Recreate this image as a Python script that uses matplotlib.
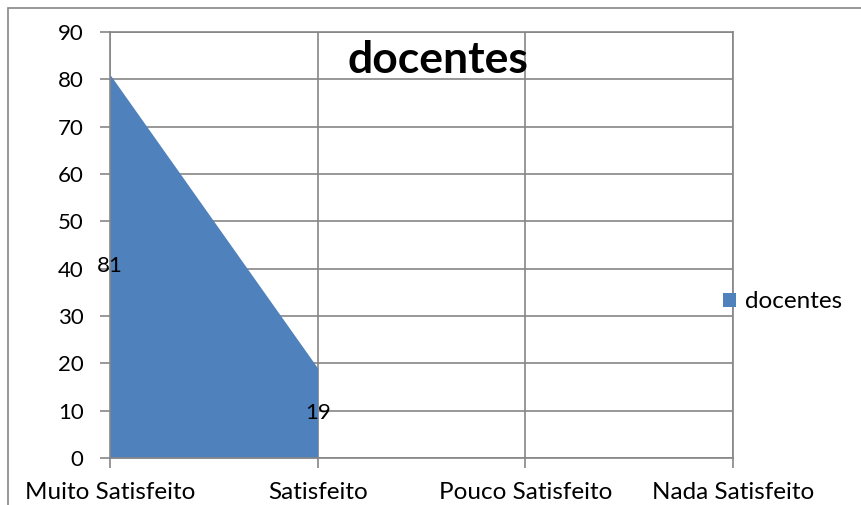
import matplotlib.pyplot as plt
from matplotlib.patches import Rectangle, Patch

categories = ["Muito Satisfeito", "Satisfeito", "Pouco Satisfeito", "Nada Satisfeito"]
values = [81, 19]
series_name = "docentes"
yticks = list(range(0, 100, 10))

grid_color = "#868686"
fill_color = "#4F81BD"

plt.rcParams["font.family"] = ["Lato", "DejaVu Sans"]

fig = plt.figure(figsize=(8.61, 5.05), dpi=100)
ax = fig.add_axes([110 / 861, 47 / 505, 623 / 861, 426 / 505])

# outer chart border (only left and top visible in the original)
fig.patches.append(Rectangle((8 / 861, -0.2), 1.2, (505 - 8) / 505 + 0.2,
                             transform=fig.transFigure, fill=False,
                             edgecolor=grid_color, linewidth=1.2))

x = list(range(len(values)))
ax.fill_between(x, values, 0, color=fill_color, linewidth=0, zorder=2)

# data labels at mid-height of the area
for xi, v in zip(x, values):
    ax.text(xi, v / 2, str(v), ha="center", va="center", fontsize=16, zorder=3)

ax.set_xlim(0, len(categories) - 1)
ax.set_ylim(0, 90)
ax.set_yticks(yticks)
ax.set_xticks(range(len(categories)))
ax.set_xticklabels(categories, fontsize=17.5)
ax.tick_params(axis="y", labelsize=16)
ax.tick_params(axis="both", color=grid_color, length=7, width=1.2)
ax.tick_params(axis="x", pad=10)
ax.tick_params(axis="y", pad=12)

ax.grid(True, color=grid_color, linewidth=1.2, zorder=1)
ax.set_axisbelow(True)
for s in ax.spines.values():
    s.set_color(grid_color)
    s.set_linewidth(1.2)

fig.text(438 / 861, 1 - 60 / 505, series_name, ha="center", va="center",
         fontsize=32, fontweight="bold")

fig.legend(handles=[Patch(facecolor=fill_color, label=series_name)],
           loc="center left", bbox_to_anchor=(701 / 861, 1 - 302 / 505),
           frameon=False, fontsize=17.5, handlelength=0.55, handleheight=0.55,
           handletextpad=0.35)

fig.savefig("out.png", dpi=100)
